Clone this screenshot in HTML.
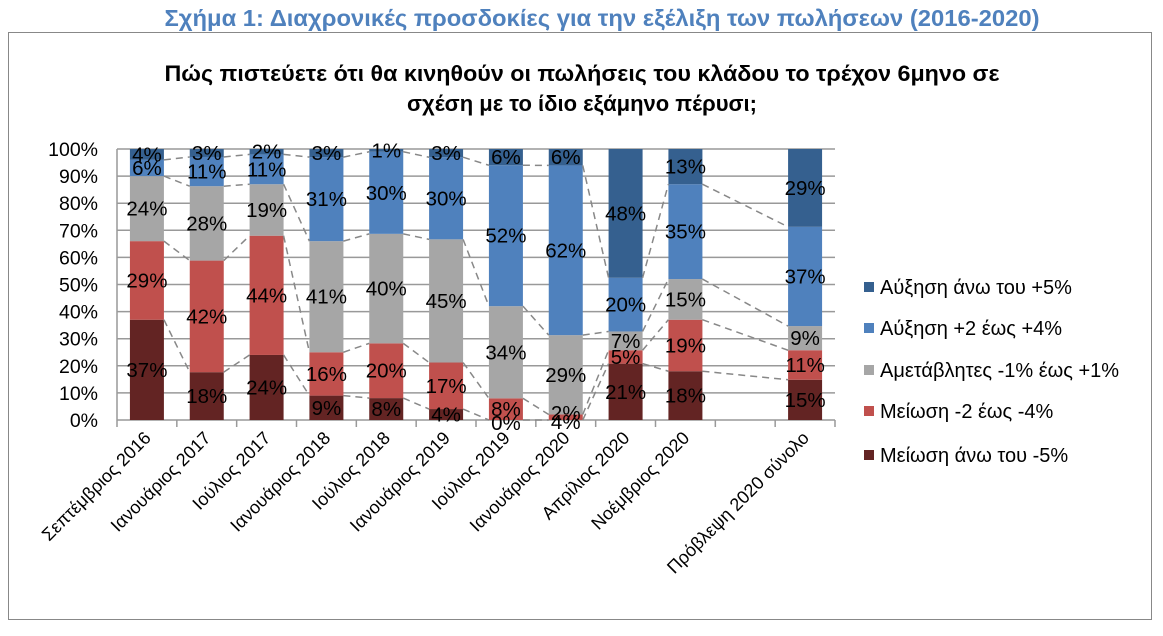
<!DOCTYPE html>
<html><head><meta charset="utf-8"><style>
body{margin:0;background:#fff;width:1163px;height:631px;overflow:hidden;font-family:"Liberation Sans",sans-serif}
</style></head><body>
<svg id="s" width="1163" height="631" xmlns="http://www.w3.org/2000/svg" font-family="Liberation Sans, sans-serif">
<text x="602" y="26" text-anchor="middle" font-size="23" font-weight="bold" fill="#4f81bd" textLength="875" lengthAdjust="spacingAndGlyphs">Σχήμα 1: Διαχρονικές προσδοκίες για την εξέλιξη των πωλήσεων (2016-2020)</text>
<rect x="8.5" y="32.5" width="1143" height="587" fill="none" stroke="#888" stroke-width="1"/>
<text x="582" y="81" text-anchor="middle" font-size="22" font-weight="bold" textLength="835" lengthAdjust="spacingAndGlyphs">Πώς πιστεύετε ότι θα κινηθούν οι πωλήσεις του κλάδου το τρέχον 6μηνο σε</text>
<text x="582" y="111" text-anchor="middle" font-size="22" font-weight="bold">σχέση με το ίδιο εξάμηνο πέρυσι;</text>
<g id="g"></g>
</svg>
<script>
const g=document.getElementById('g');let h='';
const x0=117,x1=835,y0=420,y100=149,H=y0-y100,sw=(x1-x0)/12,bw=34;
const Y=p=>y0-p*H/100;
for(let i=0;i<=10;i++){const y=Y(i*10);h+=`<line x1="${x0}" x2="${x1}" y1="${y}" y2="${y}" stroke="#999" stroke-width="1.5"/>`;
h+=`<text x="98" y="${y+7}" text-anchor="end" font-size="19.5">${i*10}%</text>`;}
h+=`<line x1="${x0}" x2="${x0}" y1="${y100}" y2="${y0}" stroke="#999" stroke-width="1.5"/>`;
for(let i=0;i<=12;i++){const x=x0+i*sw;h+=`<line x1="${x}" x2="${x}" y1="${y0}" y2="${y0+7}" stroke="#999" stroke-width="1.5"/>`;}
const cols=['#632423','#c0504d','#a6a6a6','#4f81bd','#35608f'];
const data=[[0,[37,29,24,6,4]],[1,[18,42,28,11,3]],[2,[24,44,19,11,2]],[3,[9,16,41,31,3]],[4,[8,20,40,30,1]],[5,[4,17,45,30,3]],[6,[0,8,34,52,6]],[7,[0,2,29,62,6]],[8,[21,5,7,20,48]],[9,[18,19,15,35,13]],[11,[15,11,9,37,29]]];
const names=['Σεπτέμβριος 2016','Ιανουάριος 2017','Ιούλιος 2017','Ιανουάριος 2018','Ιούλιος 2018','Ιανουάριος 2019','Ιούλιος 2019','Ιανουάριος 2020','Απρίλιος 2020','Νοέμβριος 2020','Πρόβλεψη 2020 σύνολο'];
const cum=[];let labels='';
data.forEach(([s,v],k)=>{const tot=v.reduce((a,b)=>a+b,0);const cx=x0+s*sw+sw/2;let c=0;const cs=[];
v.forEach((val,j)=>{const p=val/tot*100;const yt=Y(c+p),yb=Y(c);h+=`<rect x="${cx-bw/2}" y="${yt}" width="${bw}" height="${yb-yt}" fill="${cols[j]}"/>`;
let lab=val+'%';if(k==7&&j==0)lab='4%';
let ly=(yt+yb)/2+7;if(k==6&&j==0)ly=y0+10;if(k==7&&j==0)ly=y0+9;if(k==7&&j==1)ly=y0;
labels+=`<text x="${cx}" y="${ly}" text-anchor="middle" font-size="20.5">${lab}</text>`;c+=p;cs.push(c);});
cum.push([cx,cs]);
labels+=`<text transform="translate(${cx+5},${y0+19}) rotate(-45)" text-anchor="end" font-size="18">${names[k]}</text>`;});
for(let k=0;k<cum.length-1;k++){const [a,ca]=cum[k],[b,cb]=cum[k+1];for(let j=0;j<4;j++){
h+=`<line x1="${a+bw/2}" y1="${Y(ca[j])}" x2="${b-bw/2}" y2="${Y(cb[j])}" stroke="#888" stroke-width="1.5" stroke-dasharray="7,5"/>`;}}
h+=labels;
const lg=[['Αύξηση άνω του +5%',4,287],['Αύξηση +2 έως +4%',3,328],['Αμετάβλητες -1% έως +1%',2,370],['Μείωση -2 έως -4%',1,411],['Μείωση άνω του -5%',0,455]];
lg.forEach(([t,c,y])=>{h+=`<rect x="864" y="${y-5}" width="10" height="10" fill="${cols[c]}"/><text x="880" y="${y+7}" font-size="20">${t}</text>`;});
g.innerHTML=h;
</script>
</body></html>
